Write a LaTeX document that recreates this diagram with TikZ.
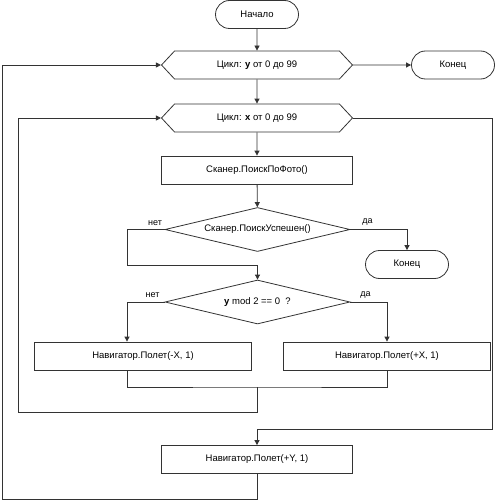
\documentclass[tikz,border=0pt]{standalone}
\usepackage{fontspec}
\setmainfont{Liberation Sans}
\usetikzlibrary{shapes.geometric,shapes.symbols,shapes.misc,arrows.meta}
\tikzset{
  base/.style={draw=black!80, line width=0.8pt, font=\fontsize{9.5}{11}\selectfont, inner sep=0pt},
  term/.style={base, rounded rectangle, minimum width=83pt, minimum height=28pt},
  proc/.style={base, rectangle, minimum width=191pt, minimum height=28pt},
  loophex/.style={base, signal, signal to=west and east, signal pointer angle=94, minimum width=191pt, minimum height=28pt},
  cond/.style={base, diamond, aspect=4.2, minimum width=185pt, minimum height=44pt},
  flow/.style={draw=black!80, line width=0.8pt, -{Triangle[length=5pt,width=5pt]}},
  link/.style={draw=black!80, line width=0.8pt},
  lbl/.style={font=\fontsize{9}{10}\selectfont, inner sep=0pt}
}
\begin{document}
\begin{tikzpicture}[x=1pt,y=-1pt]
  \useasboundingbox (0,0) rectangle (495,500);
  % blocks
  \node[term] (start) at (257,14.5) {Начало};
  \node[loophex] (loopy) at (257,65) {Цикл: \textbf{y} от 0 до 99};
  \node[term] (endA) at (453,65) {Конец};
  \node[loophex] (loopx) at (257,118) {Цикл: \textbf{x} от 0 до 99};
  \node[proc] (scan) at (257,170) {Сканер.ПоискПоФото()};
  \node[cond] (found) at (257.5,229.5) {Сканер.ПоискУспешен()};
  \node[term] (endB) at (407,264.5) {Конец};
  \node[cond] (even) at (257.5,302) {\textbf{y} mod 2 == 0\ \ ?};
  \node[proc, minimum width=217pt] (left) at (143,356) {Навигатор.Полет(-X, 1)};
  \node[proc, minimum width=207pt] (right) at (387,356) {Навигатор.Полет(+X, 1)};
  \node[proc] (nexty) at (257,459.5) {Навигатор.Полет(+Y, 1)};
  % branch labels
  \node[lbl] (noA) at (155,223) {нет};
  \node[lbl] (yesA) at (367.5,222) {да};
  \node[lbl] (noB) at (152.5,295) {нет};
  \node[lbl] (yesB) at (365.5,295) {да};
  % bends
  \coordinate (nojoin) at (127,265);
  \coordinate (merge) at (257,387);
  \coordinate (backx) at (18,412);
  \coordinate (exitx) at (492,429);
  \coordinate (backy) at (2.5,499);
  % connectors
  \draw[flow] (start) -- (loopy);
  \draw[flow] (loopy) -- (endA);
  \draw[flow] (loopy) -- (loopx);
  \draw[flow] (loopx) -- (scan);
  \draw[flow] (scan) -- (found);
  \draw[flow] (found.east) -| (endB.north);
  \draw[flow] (found.west) -| (nojoin) -| (even.north);
  \draw[flow] (even.west) -| ([xshift=-16pt]left.north);
  \draw[flow] (even.east) -| (right.north);
  \draw[link] ([xshift=-16pt]left.south) |- (merge) -| (right.south);
  \draw[flow] (merge) |- (backx) |- (loopx.west);
  \draw[flow] (loopx.east) -| (exitx) -| (nexty.north);
  \draw[flow] (nexty.south) |- (backy) |- (loopy.west);
\end{tikzpicture}
\end{document}
